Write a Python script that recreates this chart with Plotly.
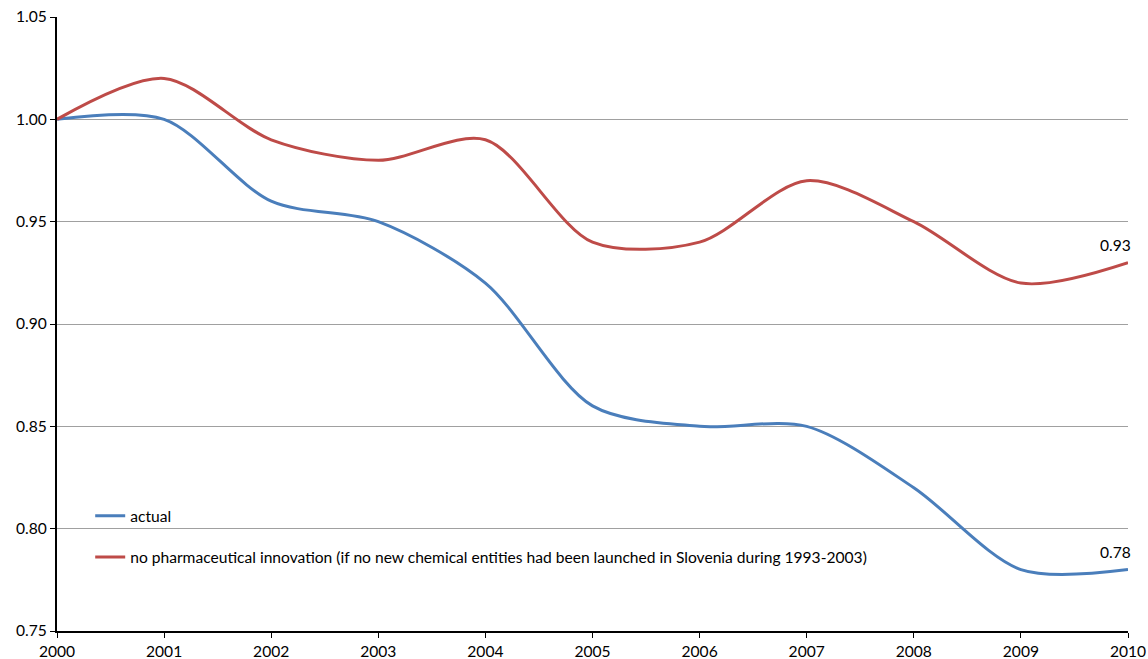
import plotly.graph_objects as go

years = [2000, 2001, 2002, 2003, 2004, 2005, 2006, 2007, 2008, 2009, 2010]
actual = [1.00, 1.00, 0.96, 0.95, 0.92, 0.86, 0.85, 0.85, 0.82, 0.78, 0.78]
no_innovation = [1.00, 1.02, 0.99, 0.98, 0.99, 0.94, 0.94, 0.97, 0.95, 0.92, 0.93]

name_actual = "actual"
name_no_innov = ("no pharmaceutical innovation (if no new chemical entities had been "
                 "launched in Slovenia during 1993-2003)")

BLUE = "#4A7EBB"
RED = "#BE4B48"
FONT = "Lato, 'Open Sans', sans-serif"
FS = 15.6

fig = go.Figure()
fig.add_trace(go.Scatter(
    x=years, y=actual, mode="lines", name=name_actual, legendgroup="a",
    line=dict(color=BLUE, width=3, shape="spline", smoothing=0.85),
))
fig.add_trace(go.Scatter(
    x=years, y=no_innovation, mode="lines", name=name_no_innov, legendgroup="b",
    line=dict(color=RED, width=3, shape="spline", smoothing=0.85),
))

# value labels at the last point of each series
for series in (no_innovation, actual):
    fig.add_annotation(
        x=years[-1], y=series[-1], text=f"{series[-1]:.2f}",
        showarrow=False, xanchor="right", yanchor="bottom",
        xshift=5, yshift=7,
        font=dict(family=FONT, size=FS, color="#000000"),
    )

fig.update_layout(
    width=1148, height=659,
    margin=dict(l=57, r=20, t=17, b=28, autoexpand=False),
    paper_bgcolor="white", plot_bgcolor="white",
    font=dict(family=FONT, size=FS, color="#000000"),
    showlegend=True,
    legend=dict(
        x=0.031, y=0.215, xanchor="left", yanchor="top",
        bgcolor="rgba(0,0,0,0)", traceorder="grouped", tracegroupgap=18,
        itemwidth=30, font=dict(family=FONT, size=FS),
    ),
    xaxis=dict(
        range=[2000, 2010], tickmode="array", tickvals=years,
        ticktext=[str(y) for y in years], automargin=False,
        showgrid=False, showline=True, linecolor="black", linewidth=2,
        ticks="outside", ticklen=5, tickcolor="black", zeroline=False,
    ),
    yaxis=dict(
        range=[0.75, 1.05], tickmode="array",
        tickvals=[0.75, 0.80, 0.85, 0.90, 0.95, 1.00, 1.05],
        tickformat=".2f", automargin=False,
        showgrid=True, gridcolor="#A0A0A0", gridwidth=1,
        showline=True, linecolor="black", linewidth=2,
        ticks="outside", ticklen=5, tickcolor="black", zeroline=False,
    ),
)

fig.write_html("out.html")
